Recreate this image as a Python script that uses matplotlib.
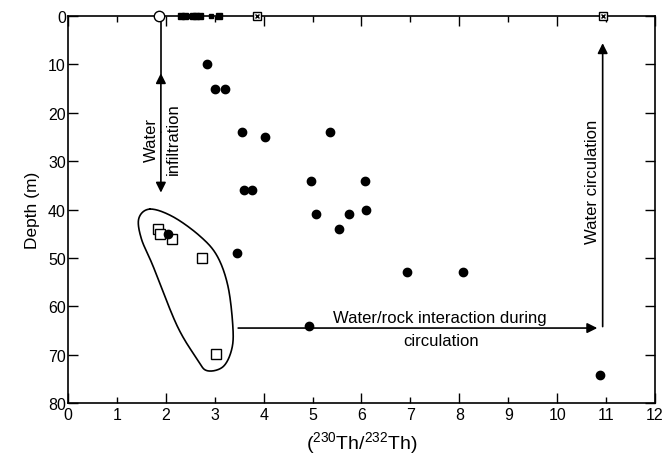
import numpy as np
import matplotlib.pyplot as plt

plt.rcParams['font.family'] = ['Liberation Sans', 'DejaVu Sans']
plt.rcParams['mathtext.default'] = 'regular'

# groundwater samples (activity ratio vs depth)
th_ratio = [2.85, 3.0, 3.22, 3.55, 4.02, 5.36, 3.59, 3.76, 4.97, 6.08,
            5.08, 5.75, 6.1, 5.55, 3.45, 2.04, 6.93, 8.08, 4.92, 10.87]
depth = [10, 15, 15, 24, 25, 24, 36, 36, 34, 34,
         41, 41, 40, 44, 49, 45, 53, 53, 64, 74.3]

# rock samples
rock_ratio = [1.85, 1.88, 2.12, 2.75, 3.02]
rock_depth = [44, 45, 46, 50, 69.8]

# surface samples at depth 0
rain_ratio = [1.86]
soil_ratio = [2.31, 2.4, 2.56, 2.62, 2.7, 3.09]
soil_small = [2.48, 2.93]
spring_ratio = [3.86, 10.93]

# outline around the rock samples
loop_x = [1.68, 1.45, 1.5, 1.74, 2.23, 2.64, 2.84, 3.17, 3.35, 3.37, 3.27, 3.05, 2.7, 2.15]
loop_y = [39.9, 41.8, 46, 51.7, 64, 70.9, 73.3, 72.5, 68.8, 64, 55.8, 49.6, 45.5, 41.5]


def closed_curve(px, py, n=30):
    # periodic Catmull-Rom through the given points
    p = np.column_stack([px, py])
    m = len(p)
    out = []
    for i in range(m):
        p0, p1, p2, p3 = p[(i - 1) % m], p[i], p[(i + 1) % m], p[(i + 2) % m]
        t = np.linspace(0, 1, n, endpoint=False)[:, None]
        seg = 0.5 * ((2 * p1) + (-p0 + p2) * t + (2 * p0 - 5 * p1 + 4 * p2 - p3) * t**2
                     + (-p0 + 3 * p1 - 3 * p2 + p3) * t**3)
        out.append(seg)
    out.append(p[:1])
    c = np.vstack(out)
    return c[:, 0], c[:, 1]


fig = plt.figure(figsize=(6.66, 4.56), dpi=100)
ax = fig.add_axes([0.102, 0.114, 0.8815, 0.8485])

cx, cy = closed_curve(loop_x, loop_y)
ax.plot(cx, cy, color='k', lw=1.2)

ax.plot(rock_ratio, rock_depth, 's', ms=7, mfc='white', mec='k', mew=1.0, zorder=3)
ax.plot(th_ratio, depth, 'o', ms=6, color='k', zorder=4)

ax.plot(rain_ratio, [0] * len(rain_ratio), 'o', ms=7.5, mfc='white', mec='k', mew=1.0,
        clip_on=False, zorder=5)
ax.plot(soil_ratio, [0] * len(soil_ratio), 's', ms=5, color='k', clip_on=False, zorder=5)
ax.plot(soil_small, [0] * len(soil_small), 's', ms=2.5, color='k', clip_on=False, zorder=5)
ax.plot(spring_ratio, [0] * len(spring_ratio), 's', ms=5.5, mfc='white', mec='k', mew=1.0,
        clip_on=False, zorder=5)
ax.plot(spring_ratio, [0] * len(spring_ratio), 'x', ms=3.5, color='k', mew=1.0,
        clip_on=False, zorder=6)

arr = dict(arrowstyle='-|>', color='k', lw=1.2, mutation_scale=15, shrinkA=0, shrinkB=0)
fs = 12

# infiltration
ax.plot([1.9, 1.9], [0, 12], color='k', lw=1.2)
ax.annotate('', xy=(1.9, 11.8), xytext=(1.9, 24), arrowprops=arr)
ax.annotate('', xy=(1.9, 36.5), xytext=(1.9, 24), arrowprops=arr)
ax.text(1.7, 25.4, 'Water', rotation=90, ha='center', va='center', fontsize=fs)
ax.text(2.15, 25.2, 'infiltration', rotation=90, ha='center', va='center', fontsize=fs)

# water/rock interaction
ax.annotate('', xy=(10.82, 64.5), xytext=(3.48, 64.5), arrowprops=arr)
ax.text(7.61, 62.4, 'Water/rock interaction during', ha='center', va='center', fontsize=fs)
ax.text(7.62, 67.0, 'circulation', ha='center', va='center', fontsize=fs)

# circulation
ax.annotate('', xy=(10.93, 5.6), xytext=(10.93, 64.2), arrowprops=arr)
ax.text(10.72, 34, 'Water circulation', rotation=90, ha='center', va='center', fontsize=fs)

ax.set_xlim(0, 12)
ax.set_ylim(80, 0)
ax.set_xticks(range(0, 13))
ax.set_yticks(range(0, 81, 10))
ax.tick_params(which='both', direction='in', top=True, right=True, labelsize=11.5,
               width=1.0, length=7, pad=1.5)
ax.tick_params(axis='x', pad=3)
for i, t in enumerate(ax.xaxis.get_major_ticks()):
    if i % 2:
        t.tick1line.set_markersize(4.5)
        t.tick2line.set_markersize(4.5)
for s in ax.spines.values():
    s.set_linewidth(1.2)

ax.set_xlabel(r'($^{230}$Th/$^{232}$Th)', fontsize=14, labelpad=5)
ax.set_ylabel('Depth (m)', fontsize=12.5, labelpad=6)

fig.savefig('out.png', dpi=100)
